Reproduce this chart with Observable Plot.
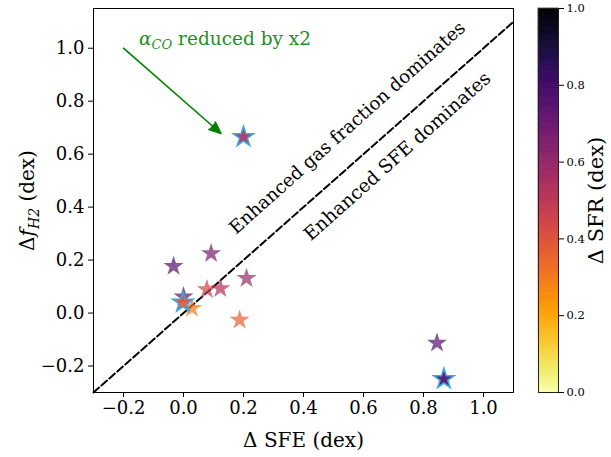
<!DOCTYPE html>
<html><head><meta charset="utf-8">
<script src="https://cdn.jsdelivr.net/npm/d3@7"></script>
<script src="https://cdn.jsdelivr.net/npm/@observablehq/plot@0.6"></script>
<style>
html,body{margin:0;padding:0;background:#fff;}
#wrap{position:relative;width:611px;height:457px;}
#wrap svg{position:absolute;top:0;overflow:visible;}
</style></head><body><div id="wrap"></div>
<script>
// Data
const dSFE   = [0.200, 0.845, 0.868, -0.033, 0.092, 0.210, 0.123, 0.078, 0.000, -0.002, 0.028, 0.187];
const dFH2   = [0.665, -0.113, -0.249, 0.177, 0.225, 0.131, 0.093, 0.089, 0.062, 0.040, 0.018, -0.026];
const dSFR   = [0.55, 0.75, 0.78, 0.75, 0.67, 0.58, 0.52, 0.46, 0.74, 0.38, 0.30, 0.36];
const edged  = [true, false, true, false, false, false, false, false, false, true, false, false];
const xTicks = [-0.2, 0.0, 0.2, 0.4, 0.6, 0.8, 1.0];
const yTicks = [-0.2, 0.0, 0.2, 0.4, 0.6, 0.8, 1.0];
const cbTicks = [0.0, 0.2, 0.4, 0.6, 0.8, 1.0];
const oneToOne = [-0.3, 1.1];
const arrowFrom = [-0.2, 1.0];
const arrowTo = [0.125, 0.678];

const FONT = '"DejaVu Serif", serif';
const fmt = d3.format(".1f");
const pts = dSFE.map((x, i) => ({x, y: dFH2[i], c: dSFR[i], e: edged[i]}));
const colorScale = {type: "linear", scheme: "inferno", reverse: true, domain: [0, 1]};

const main = Plot.plot({
  width: 611, height: 457,
  marginLeft: 93, marginRight: 98, marginTop: 8, marginBottom: 65,
  style: {fontFamily: FONT, fontSize: "18px", background: "transparent", color: "black"},
  x: {domain: [-0.3, 1.1], ticks: xTicks, tickFormat: fmt, tickSize: 5, tickPadding: 4, label: null},
  y: {domain: [-0.3, 1.15], ticks: yTicks, tickFormat: fmt, tickSize: 5, tickPadding: 4, label: null},
  color: colorScale,
  marks: [
    Plot.line(oneToOne.map(v => ({x: v, y: v})), {x: "x", y: "y", stroke: "black", strokeWidth: 2, strokeDasharray: "7.4,3.2"}),
    Plot.dot(pts, {x: "x", y: "y", fill: "c", fillOpacity: 0.7, symbol: "star", r: 6.3}),
    Plot.dot(pts.filter(d => d.e), {x: "x", y: "y", fill: "c", fillOpacity: 0.7, symbol: "star", r: 6.3, stroke: "#3ca4de", strokeWidth: 1.6}),
    Plot.arrow([{a: arrowFrom, b: arrowTo}], {x1: d => d.a[0], y1: d => d.a[1], x2: d => d.b[0], y2: d => d.b[1], stroke: "green", fill: "green", strokeWidth: 1.6, headLength: 12, headAngle: 45}),
    Plot.text(["Enhanced gas fraction dominates"], {x: 0.559, y: 0.683, rotate: -41.7, textAnchor: "middle", lineAnchor: "bottom", fontSize: 18.2, fill: "black"}),
    Plot.text(["Enhanced SFE dominates"], {x: 0.726, y: 0.575, rotate: -41.7, textAnchor: "middle", lineAnchor: "bottom", fontSize: 18.6, fill: "black"}),
    Plot.text(["@anno"], {x: -0.148, y: 1.011, textAnchor: "start", lineAnchor: "bottom", fontSize: 18.5, fill: "#1f8f1f"}),
    Plot.text(["Δ SFE (dex)"], {frameAnchor: "bottom", dy: 54, textAnchor: "middle", lineAnchor: "bottom", fontSize: 20}),
    Plot.text(["@ylab"], {frameAnchor: "left", dx: -66, rotate: -90, textAnchor: "middle", lineAnchor: "middle", fontSize: 20}),
    Plot.frame({stroke: "black", strokeWidth: 1})
  ]
});
main.style.left = "0px";
d3.select(main).selectAll("text").each(function () {
  const t = this.textContent;
  if (t === "@ylab") {
    this.innerHTML = 'Δ<tspan font-style="italic">f</tspan><tspan font-style="italic" font-size="14" dy="5">H2</tspan><tspan dy="-5"> (dex)</tspan>';
  } else if (t === "@anno") {
    this.innerHTML = '<tspan font-style="italic">α</tspan><tspan font-style="italic" font-size="13" dy="4">CO</tspan><tspan dy="-4"> reduced by x2</tspan>';
  }
});

// Colorbar
const rampStep = 0.005;
const ramp = d3.range(0, 1, rampStep);
const cb = Plot.plot({
  width: 73, height: 457,
  marginLeft: 0, marginRight: 53, marginTop: 8, marginBottom: 65,
  style: {fontFamily: FONT, fontSize: "11.5px", background: "transparent", color: "black"},
  x: {domain: [0, 1], axis: null},
  y: {domain: [0, 1], axis: "right", ticks: cbTicks, tickFormat: fmt, tickSize: 5, tickPadding: 3, label: null},
  color: colorScale,
  marks: [
    Plot.rect(ramp, {x1: 0, x2: 1, y1: d => d, y2: d => d + rampStep, fill: d => d + rampStep / 2, stroke: d => d + rampStep / 2, strokeWidth: 0.6}),
    Plot.frame({stroke: "#222", strokeWidth: 1}),
    Plot.text(["Δ SFR (dex)"], {frameAnchor: "right", dx: 38, rotate: -90, textAnchor: "middle", lineAnchor: "middle", fontSize: 21})
  ]
});
cb.style.left = "538px";
document.getElementById("wrap").append(main, cb);
</script></body></html>
